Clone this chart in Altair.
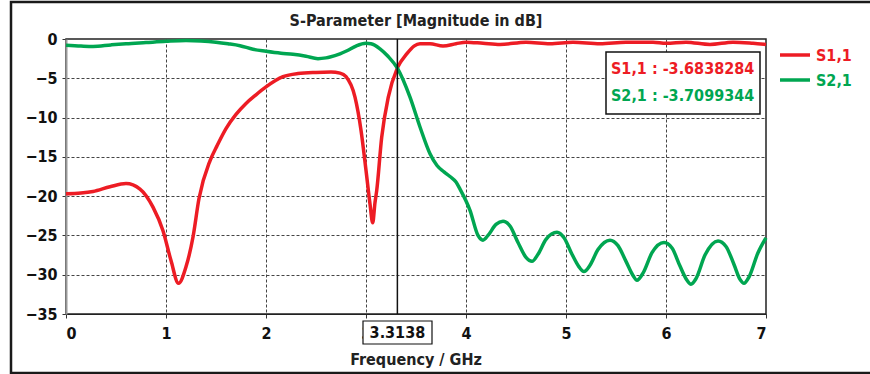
import altair as alt
import pandas as pd

FONT = "DejaVu Sans Condensed, DejaVu Sans"
RED = "#ed1c24"
GREEN = "#00a651"

series_names = ["S1,1", "S2,1"]
series_colors = [RED, GREEN]

s11_freq = [0.0, 0.15, 0.27, 0.44, 0.6, 0.74, 0.87, 0.97, 1.05, 1.125, 1.2, 1.27, 1.33,
            1.44, 1.51, 1.6, 1.7, 1.8, 1.9, 2.0, 2.17, 2.32, 2.5, 2.65, 2.74, 2.8, 2.89, 2.95,
            3.0, 3.04, 3.067, 3.09, 3.107, 3.157, 3.223, 3.3138, 3.407, 3.48, 3.54, 3.64, 3.77,
            3.9, 4.0, 4.17, 4.34, 4.6, 4.84, 5.07, 5.34, 5.6, 5.87, 6.0, 6.2, 6.44, 6.67, 6.87, 7.0]
s11_db = [-19.7, -19.6, -19.4, -18.8, -18.4, -19.1, -21.4, -24.4, -28.2, -31.1, -29.0,
          -25.2, -20.3, -15.5, -13.6, -11.4, -9.6, -8.2, -7.1, -6.1, -4.8, -4.4, -4.25,
          -4.2, -4.35, -4.8, -7.4, -11.6, -16.7, -21.0, -23.4, -20.8, -19.3, -12.5, -7.4,
          -3.68, -1.9, -0.9, -0.6, -0.6, -0.9, -0.6, -0.4, -0.55, -0.7, -0.4, -0.6, -0.4,
          -0.6, -0.4, -0.4, -0.55, -0.4, -0.7, -0.4, -0.55, -0.7]

s21_freq = [0.0, 0.15, 0.27, 0.45, 0.6, 0.8, 1.0, 1.2, 1.35, 1.5, 1.62, 1.74, 1.87, 2.0, 2.15,
            2.27, 2.4, 2.52, 2.6, 2.64, 2.74, 2.81, 2.9, 3.0, 3.05, 3.14, 3.22, 3.3138, 3.44,
            3.54, 3.64, 3.71, 3.78, 3.84, 3.9, 3.94, 4.04, 4.12, 4.17, 4.22, 4.3, 4.37, 4.44,
            4.52, 4.6, 4.66, 4.72, 4.8, 4.91, 4.98, 5.06, 5.13, 5.18, 5.24, 5.32, 5.44, 5.52,
            5.6, 5.67, 5.71, 5.77, 5.86, 5.98, 6.06, 6.14, 6.21, 6.25, 6.3, 6.39, 6.52, 6.6,
            6.68, 6.74, 6.78, 6.83, 6.92, 7.0]
s21_db = [-0.8, -0.9, -0.95, -0.75, -0.6, -0.45, -0.3, -0.2, -0.25, -0.4, -0.6, -0.85, -1.3,
          -1.55, -1.8, -1.95, -2.2, -2.5, -2.4, -2.3, -1.9, -1.5, -0.9, -0.55, -0.6, -1.25,
          -2.2, -3.71, -7.4, -11.2, -14.6, -16.1, -16.9, -17.5, -18.2, -19.1, -21.8, -25.0,
          -25.6, -25.0, -23.6, -23.2, -23.8, -25.9, -27.8, -28.3, -27.4, -25.5, -24.6, -25.3,
          -27.4, -29.0, -29.6, -28.8, -26.8, -25.6, -26.3, -28.3, -30.1, -30.7, -29.8, -27.2,
          -25.9, -26.6, -28.9, -30.7, -31.2, -30.5, -27.5, -25.7, -26.4, -28.7, -30.6, -31.1,
          -30.3, -27.2, -25.3]

marker_freq = 3.3138
marker_values = [-3.6838284, -3.7099344]

x_ticks = [0, 1, 2, 3, 4, 5, 6, 7]
y_ticks = [-35, -30, -25, -20, -15, -10, -5, 0]

title_text = "S-Parameter [Magnitude in dB]"
x_title = "Frequency / GHz"

df = pd.concat([
    pd.DataFrame({"freq": s11_freq, "db": s11_db, "series": series_names[0]}),
    pd.DataFrame({"freq": s21_freq, "db": s21_db, "series": series_names[1]}),
])

one = pd.DataFrame({"a": [0]})

grid_hide = {"condition": {"test": "datum.value == 0 || datum.value == -35 || datum.value == 7", "value": 0}, "value": 1}

xscale = alt.Scale(domain=[0, 7], nice=False)
yscale = alt.Scale(domain=[-35, 0], nice=False)

lines = alt.Chart(df).mark_line(strokeWidth=3.5, interpolate="monotone").encode(
    x=alt.X("freq:Q", scale=xscale,
            axis=alt.Axis(values=x_ticks, format="d", title=None, grid=True, gridOpacity=grid_hide,
                          labelPadding=7, domainColor="#222")),
    y=alt.Y("db:Q", scale=yscale,
            axis=alt.Axis(values=y_ticks, format="d", title=None, grid=True, gridOpacity=grid_hide,
                          labelPadding=5, domainColor="#999", domainWidth=2)),
    color=alt.Color("series:N", scale=alt.Scale(domain=series_names, range=series_colors), legend=None),
    detail="series:N",
)

frame = alt.Chart(one).mark_rect(fillOpacity=0, stroke="#1a1a1a", strokeWidth=2.5).encode(
    x=alt.value(-55), x2=alt.value(830), y=alt.value(-37), y2=alt.value(334))

marker = alt.Chart(one).mark_rule(color="#111", strokeWidth=1.5).encode(
    x=alt.datum(marker_freq), y=alt.value(0), y2=alt.value(275))

marker_box = alt.Chart(one).mark_rect(fill="white", stroke="#111", strokeWidth=1.2).encode(
    x=alt.value(297), x2=alt.value(366), y=alt.value(282), y2=alt.value(305))
marker_label = alt.Chart(one).mark_text(font=FONT, fontSize=16, fontWeight="bold", color="#111",
                                         align="center", baseline="middle").encode(
    x=alt.datum(marker_freq), y=alt.value(294), text=alt.value(f"{marker_freq:.4f}"))

ann_box = alt.Chart(one).mark_rect(fill="white", stroke="#111", strokeWidth=1.5).encode(
    x=alt.value(540), x2=alt.value(694), y=alt.value(13), y2=alt.value(75))

layers = [frame, lines, marker, ann_box, marker_box, marker_label]

for i, (name, col, val) in enumerate(zip(series_names, series_colors, marker_values)):
    layers.append(alt.Chart(one).mark_text(font=FONT, fontSize=16, fontWeight="bold", color=col,
                                           align="left", baseline="middle").encode(
        x=alt.value(545), y=alt.value(30 + 27 * i), text=alt.value(f"{name} : {val:.7f}")))
    layers.append(alt.Chart(one).mark_rule(color=col, strokeWidth=3.5).encode(
        x=alt.value(714), x2=alt.value(744), y=alt.value(16 + 25 * i)))
    layers.append(alt.Chart(one).mark_text(font=FONT, fontSize=16, fontWeight="bold", color=col,
                                           align="left", baseline="middle").encode(
        x=alt.value(750), y=alt.value(17 + 25 * i), text=alt.value(name)))

layers.append(alt.Chart(one).mark_text(font=FONT, fontSize=16, fontWeight="bold", color="#222",
                                       align="center", baseline="middle").encode(
    x=alt.value(350), y=alt.value(-18), text=alt.value(title_text)))
layers.append(alt.Chart(one).mark_text(font=FONT, fontSize=16, fontWeight="bold", color="#222",
                                       align="center", baseline="middle").encode(
    x=alt.value(350), y=alt.value(321), text=alt.value(x_title)))

chart = alt.layer(*layers).properties(
    width=700, height=275, autosize="none", background="white",
    padding={"left": 66, "top": 39, "right": 104, "bottom": 60},
).configure_view(stroke="#222", strokeWidth=1.5).configure_axis(
    labelFont=FONT, labelFontSize=16, labelFontWeight="bold", labelColor="#111",
    tickColor="#333", tickSize=4, gridColor="#444", gridDash=[3, 2], gridWidth=1,
)

chart.save("out.html", embed_options={"renderer": "svg", "actions": False})
